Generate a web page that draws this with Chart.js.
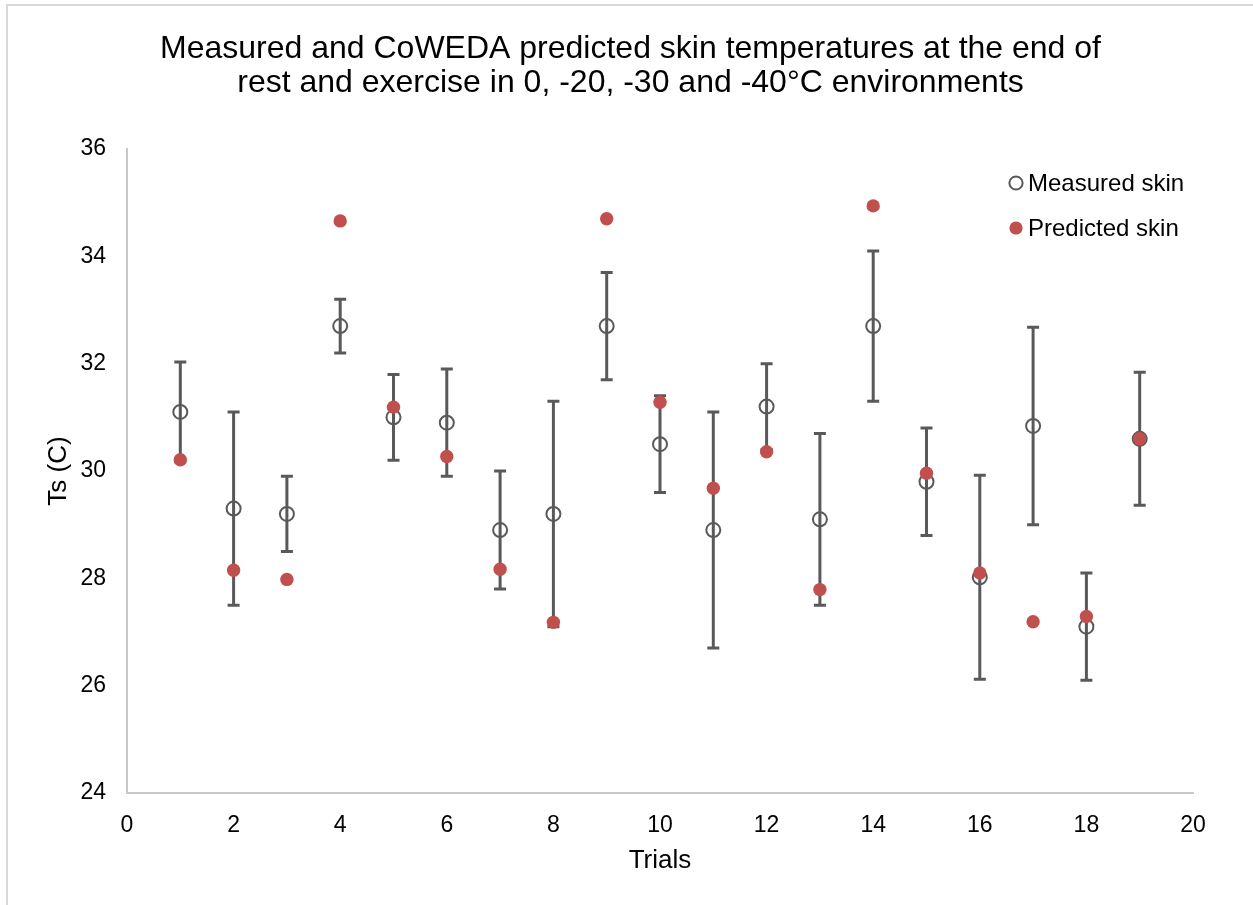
<!DOCTYPE html>
<html>
<head>
<meta charset="utf-8">
<script src="https://cdn.jsdelivr.net/npm/chart.js@4/dist/chart.umd.min.js"></script>
<style>
  html, body { margin: 0; padding: 0; background: #fff; overflow: hidden; }
  #wrap { position: relative; width: 1253px; height: 905px; }
  #frame { position: absolute; left: 6px; top: 4px; width: 1400px; height: 1000px;
           border-left: 2px solid #D9D9D9; border-top: 2px solid #D9D9D9; pointer-events: none; }
  canvas { position: absolute; left: 0; top: 0; }
</style>
</head>
<body>
<div id="wrap">
  <canvas id="c" width="1253" height="905"></canvas>
  <div id="frame"></div>
</div>
<script>
const trials = [1, 2, 3, 4, 5, 6, 7, 8, 9, 10, 11, 12, 13, 14, 15, 16, 17, 18, 19];
const measuredSkin = [31.1, 29.3, 29.2, 32.7, 31.0, 30.9, 28.9, 29.2, 32.7, 30.5, 28.9, 31.2, 29.1, 32.7, 29.8, 28.02, 30.84, 27.1, 30.6];
const measuredError = [0.93, 1.8, 0.7, 0.5, 0.8, 1.0, 1.1, 2.1, 1.0, 0.9, 2.2, 0.8, 1.6, 1.4, 1.0, 1.9, 1.84, 1.0, 1.24];
const predictedSkin = [30.21, 28.15, 27.98, 34.66, 31.19, 30.27, 28.17, 27.18, 34.7, 31.28, 29.68, 30.36, 27.79, 34.94, 29.96, 28.1, 27.19, 27.29, 30.6];
const titleLines = ['Measured and CoWEDA predicted skin temperatures at the end of',
                    'rest and exercise in 0, -20, -30 and -40\u00B0C environments'];
const xTitle = 'Trials';
const yTitle = 'Ts (C)';
const seriesNames = ['Measured skin', 'Predicted skin'];

const FONT = "'Liberation Sans', Arial, sans-serif";
const GRAY = '#595959';
const RED = '#C0504D';

const errorBars = {
  id: 'errorBars',
  beforeDatasetsDraw(chart) {
    const {ctx, scales: {x, y}} = chart;
    ctx.save();
    ctx.strokeStyle = GRAY;
    ctx.lineWidth = 3;
    ctx.lineCap = 'butt';
    trials.forEach((t, i) => {
      const px = x.getPixelForValue(t);
      const hi = y.getPixelForValue(measuredSkin[i] + measuredError[i]);
      const lo = y.getPixelForValue(measuredSkin[i] - measuredError[i]);
      const cap = 6;
      ctx.beginPath();
      ctx.moveTo(px, hi); ctx.lineTo(px, lo);
      ctx.moveTo(px - cap, hi); ctx.lineTo(px + cap, hi);
      ctx.moveTo(px - cap, lo); ctx.lineTo(px + cap, lo);
      ctx.stroke();
    });
    ctx.restore();
  }
};

const insideLegend = {
  id: 'insideLegend',
  afterDraw(chart) {
    const {ctx} = chart;
    ctx.save();
    const mx = 1016, tx = 1028;
    const ys = [183, 228];
    chart.data.datasets.forEach((ds, i) => {
      ctx.beginPath();
      ctx.arc(mx, ys[i], 6.6, 0, Math.PI * 2);
      if (i === 0) {
        ctx.fillStyle = '#fff';
        ctx.fill();
        ctx.lineWidth = 2;
        ctx.strokeStyle = GRAY;
        ctx.stroke();
      } else {
        ctx.fillStyle = RED;
        ctx.fill();
      }
      ctx.fillStyle = '#000';
      ctx.font = '24px ' + FONT;
      ctx.textBaseline = 'middle';
      ctx.textAlign = 'left';
      ctx.fillText(ds.label, tx, ys[i] + 1);
    });
    ctx.restore();
  }
};

new Chart(document.getElementById('c'), {
  type: 'scatter',
  data: {
    datasets: [
      {
        label: seriesNames[0],
        data: trials.map((t, i) => ({x: t, y: measuredSkin[i]})),
        pointStyle: 'circle',
        pointRadius: 7,
        pointBorderWidth: 2,
        pointBorderColor: GRAY,
        pointBackgroundColor: 'rgba(255,255,255,0)',
        showLine: false,
        order: 2
      },
      {
        label: seriesNames[1],
        data: trials.map((t, i) => ({x: t, y: predictedSkin[i]})),
        pointStyle: 'circle',
        pointRadius: 6.7,
        pointBorderWidth: 0,
        pointBorderColor: RED,
        pointBackgroundColor: RED,
        showLine: false,
        order: 1
      }
    ]
  },
  options: {
    responsive: false,
    animation: false,
    events: [],
    layout: { padding: { left: 8, right: 0, top: 0, bottom: 0 } },
    plugins: {
      legend: { display: false },
      tooltip: { enabled: false },
      title: {
        display: true,
        text: titleLines,
        color: '#000',
        font: { family: FONT, size: 32, weight: 'normal', lineHeight: 1.0625 },
        padding: { top: 32, bottom: 49 }
      }
    },
    scales: {
      x: {
        type: 'linear',
        min: 0, max: 20,
        ticks: { stepSize: 2, color: '#000', padding: 19, font: { family: FONT, size: 23 } },
        grid: { display: false, drawTicks: false },
        border: { display: true, color: '#C8C8C8', width: 2 },
        title: { display: true, text: xTitle, color: '#000', font: { family: FONT, size: 26 }, padding: { top: 0, bottom: 29 } },
        afterFit(scale) { scale.height = 905 - 793; }
      },
      y: {
        type: 'linear',
        min: 24, max: 36,
        ticks: { stepSize: 2, color: '#000', padding: 21, font: { family: FONT, size: 23 } },
        grid: { display: false, drawTicks: false },
        border: { display: true, color: '#C8C8C8', width: 2 },
        title: { display: true, text: yTitle, color: '#000', font: { family: FONT, size: 26 }, padding: { top: 35, bottom: 0 } },
        afterFit(scale) { scale.width = 119; }
      },
      yRight: {
        type: 'linear',
        position: 'right',
        min: 24, max: 36,
        ticks: { display: false },
        grid: { display: false, drawTicks: false },
        border: { display: false },
        afterFit(scale) { scale.width = 60; }
      }
    }
  },
  plugins: [errorBars, insideLegend]
});
</script>
</body>
</html>
